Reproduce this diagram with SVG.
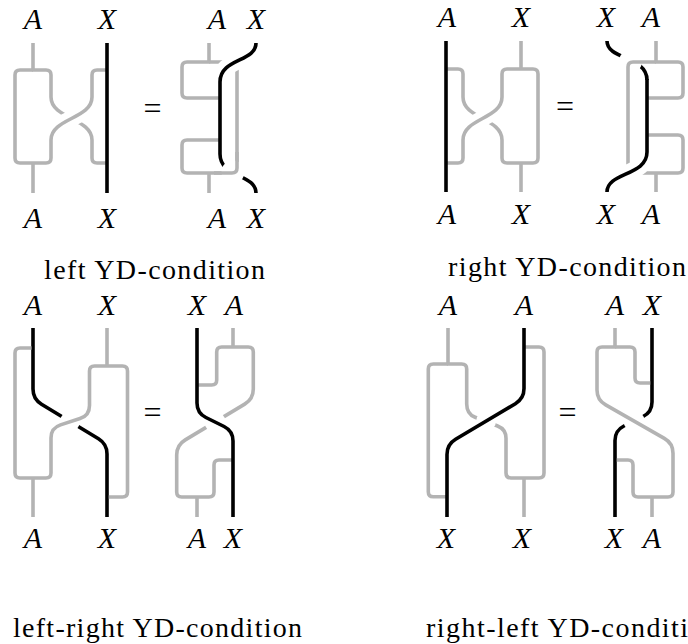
<svg xmlns="http://www.w3.org/2000/svg" width="688" height="644" viewBox="0 0 688 644">
<style>
.g{fill:none;stroke:#b3b3b3;stroke-width:3.6;stroke-linejoin:round}
.k{fill:none;stroke:#000;stroke-width:3.6;stroke-linejoin:round}
.h{fill:none;stroke:#fff;stroke-width:16}
.h2{fill:none;stroke:#fff;stroke-width:17}
.w{fill:#fff}
.lb{font-family:'Times New Roman','Liberation Serif',Tinos,'Noto Serif','DejaVu Serif',FreeSerif,Times,serif;font-style:italic;font-size:30px;text-anchor:middle}
.eq{font-family:'Times New Roman','Liberation Serif',Tinos,'Noto Serif','DejaVu Serif',FreeSerif,Times,serif;font-size:32px;text-anchor:middle}
.cap{font-family:'Times New Roman','Liberation Serif',Tinos,'Noto Serif','DejaVu Serif',FreeSerif,Times,serif;font-size:28px}
</style>
<rect width="688" height="644" fill="#fff"/>

<!-- left YD-condition -->
<g id="d1-lhs">
<path class="g" d="M33,43 V70 H46 Q51,70 51,75 V97 C51,119 92,118 92,140 V158 Q92,163 97,163 H107"/>
<path class="h" d="M61.7,123.5 L81.3,113.5"/>
<path class="g" d="M33,70 H20 Q15,70 15,75 V158 Q15,163 20,163 H46 Q51,163 51,158 V140 C51,118 92,119 92,97 V75 Q92,70 97,70 H107"/>
<path class="g" d="M33,163 V193"/>
<path class="k" d="M107,43 V193"/>
</g>
<g id="d1-rhs">
<path class="g" d="M209,43 V62 H187 Q182,62 182,67 V93 Q182,98 187,98 H220"/>
<path class="g" d="M209,62 H232 Q237,62 237,67 V168 Q237,173 232,173 H187 Q182,173 182,168 V145 Q182,140 187,140 H220"/>
<path class="g" d="M209,173 V193"/>
<path class="h2" d="M256,43 C256,62 220,58 220,82"/>
<path class="k" d="M256,43 C256,62 220,58 220,82 V154 C220,178 256,174 256,193"/>
<circle class="w" cx="233" cy="172" r="11.5"/>
<path class="g" d="M237,152 V168 Q237,173 232,173 H214"/>
</g>
<text class="eq" x="152.5" y="119">=</text>
<g id="d1-labels">
<text class="lb" x="33" y="29">A</text>
<text class="lb" x="107" y="29">X</text>
<text class="lb" x="217" y="29">A</text>
<text class="lb" x="256" y="29">X</text>
<text class="lb" x="33" y="228">A</text>
<text class="lb" x="107" y="228">X</text>
<text class="lb" x="217" y="228">A</text>
<text class="lb" x="256" y="228">X</text>
</g>
<text class="cap" x="44" y="279" textLength="221">left YD-condition</text>

<!-- right YD-condition -->
<g id="d2-lhs">
<path class="g" d="M446,69 H458 Q463,69 463,74 V97 C463,119 502,118 502,140 V158 Q502,163 507,163 H521"/>
<path class="h" d="M472.8,123.7 L492.2,113.3"/>
<path class="g" d="M446,163 H458 Q463,163 463,158 V140 C463,118 502,119 502,97 V74 Q502,69 507,69 H533 Q538,69 538,74 V158 Q538,163 533,163 H521"/>
<path class="g" d="M521,41 V69 M521,163 V192"/>
<path class="k" d="M446,41 V192"/>
</g>
<g id="d2-rhs">
<path class="k" d="M607,41 C607,60 647,56 647,80"/>
<circle class="w" cx="630.5" cy="61.5" r="11.5"/>
<path class="g" d="M656,41 V62 H678 Q683,62 683,67 V93 Q683,98 678,98 H647"/>
<path class="g" d="M656,62 H633 Q628,62 628,67 V168 Q628,173 633,173 H678 Q683,173 683,168 V140 Q683,135 678,135 H647"/>
<path class="g" d="M656,173 V192"/>
<path class="h2" d="M647,152 C647,176 607,172 607,192"/>
<path class="k" d="M647,79 V152 C647,176 607,172 607,192"/>
</g>
<text class="eq" x="565" y="117">=</text>
<g id="d2-labels">
<text class="lb" x="447" y="27">A</text>
<text class="lb" x="521" y="27">X</text>
<text class="lb" x="606" y="27">X</text>
<text class="lb" x="651" y="27">A</text>
<text class="lb" x="447" y="224">A</text>
<text class="lb" x="521" y="224">X</text>
<text class="lb" x="606" y="224">X</text>
<text class="lb" x="651" y="224">A</text>
</g>
<text class="cap" x="448" y="276" textLength="238">right YD-condition</text>

<!-- left-right YD-condition -->
<g id="d3-lhs">
<path class="k" d="M33,328 V389 Q33,399 41.5,404.2 L98.5,438.8 Q107,444 107,454 V517"/>
<circle class="w" cx="70" cy="421.6" r="10"/>
<path class="g" d="M31.5,348 H20 Q15,348 15,353 V473 Q15,478 20,478 H46 Q51,478 51,473 V438 Q51,428 60.5,424.9 L80,418.5 Q89.5,415.4 89.5,405.4 V371 Q89.5,366 94.5,366 H122.5 Q127.5,366 127.5,371 V492 Q127.5,497 122.5,497 H108.8"/>
<path class="g" d="M107,328 V366 M33,478 V517"/>
</g>
<g id="d3-rhs">
<path class="g" d="M233,347 H248.3 Q253.3,347 253.3,352 V389 Q253.3,399 244.7,404.1 L185.3,439.9 Q176.7,445 176.7,455 V492 Q176.7,497 181.7,497 H209 Q214,497 214,492 V465 Q214,460 219,460 H233"/>
<path class="g" d="M233,347 H221.7 Q216.7,347 216.7,352 V380 Q216.7,385 211.7,385 H197"/>
<path class="g" d="M233,328 V347 M197,497 V517"/>
<circle class="w" cx="215" cy="422" r="10.5"/>
<path class="k" d="M197,328 V403 Q197,413 205.9,417.5 L224.1,426.5 Q233,431 233,441 V517"/>
</g>
<text class="eq" x="152.5" y="423">=</text>
<g id="d3-labels">
<text class="lb" x="33" y="315">A</text>
<text class="lb" x="107" y="315">X</text>
<text class="lb" x="197" y="315">X</text>
<text class="lb" x="234" y="315">A</text>
<text class="lb" x="33" y="548">A</text>
<text class="lb" x="107" y="548">X</text>
<text class="lb" x="197" y="548">A</text>
<text class="lb" x="233" y="548">X</text>
</g>
<text class="cap" x="13" y="637" textLength="289">left-right YD-condition</text>

<!-- right-left YD-condition -->
<g id="d4-lhs">
<path class="g" d="M448,328 V364 H461.7 Q466.7,364 466.7,369 V404 Q466.7,414 475.1,417.3 L497.6,426 Q506,429.3 506,438.3 V473 Q506,478 511,478 H539 Q544,478 544,473 V352 Q544,347 539,347 H524"/>
<path class="g" d="M448,364 H433.3 Q428.3,364 428.3,369 V491.7 Q428.3,496.7 433.3,496.7 H447"/>
<path class="g" d="M524,478 V517"/>
<circle class="w" cx="486" cy="421.3" r="10"/>
<path class="k" d="M524,328 V388.6 Q524,398.6 515.4,403.7 L455.6,439.3 Q447,444.4 447,454.4 V517"/>
</g>
<g id="d4-rhs">
<path class="k" d="M652,328 V402 Q652,412 643.1,416.5 L623.9,426 Q615,430.5 615,440.5 V517"/>
<circle class="w" cx="634" cy="421" r="10.5"/>
<path class="g" d="M615,328 V347 H602 Q597,347 597,352 V390 Q597,400 605.7,404.9 L664.3,438.4 Q673,443.3 673,453.3 V492 Q673,497 668,497 H638 Q633,497 633,492 V465 Q633,460 628,460 H616.8"/>
<path class="g" d="M615,347 H630 Q635,347 635,352 V378 Q635,383 640,383 H650.2"/>
<path class="g" d="M652,497 V517"/>
</g>
<text class="eq" x="567.5" y="423">=</text>
<g id="d4-labels">
<text class="lb" x="448" y="315">A</text>
<text class="lb" x="524" y="315">A</text>
<text class="lb" x="615" y="315">A</text>
<text class="lb" x="652" y="315">X</text>
<text class="lb" x="446" y="548">X</text>
<text class="lb" x="522" y="548">X</text>
<text class="lb" x="614" y="548">X</text>
<text class="lb" x="652" y="548">A</text>
</g>
<text class="cap" x="426" y="637" textLength="293">right-left YD-condition</text>
</svg>
